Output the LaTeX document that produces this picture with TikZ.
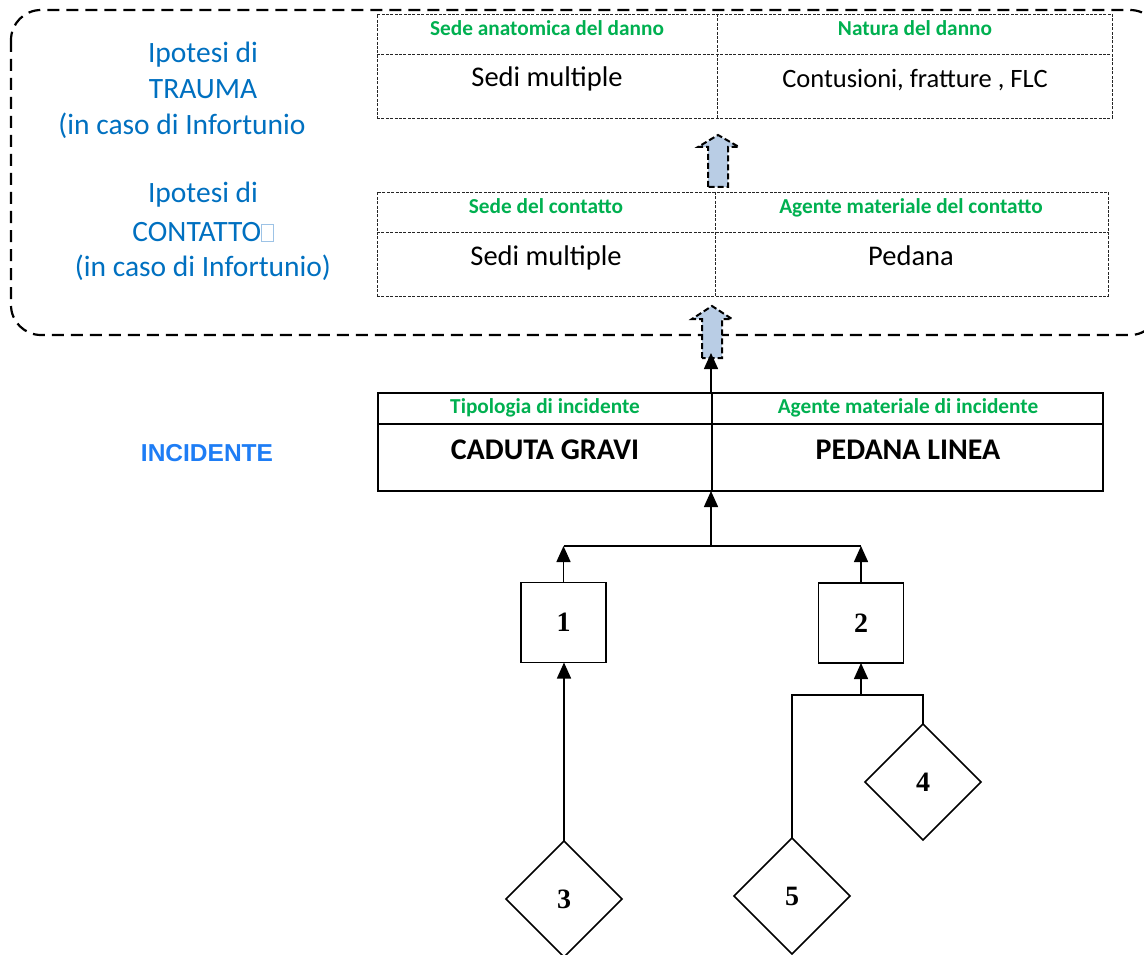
\documentclass[tikz,border=0pt]{standalone}
\usepackage{fontspec}
\setmainfont{Carlito}
\newfontfamily\numfont{Liberation Serif}
\newfontfamily\arialf{Liberation Sans}
\usetikzlibrary{shapes.geometric,arrows.meta,calc}
\definecolor{hdrgreen}{HTML}{00B050}
\definecolor{txtblue}{HTML}{0070C0}
\definecolor{incblue}{RGB}{30,125,245}
\definecolor{arrfill}{HTML}{B9CDE5}
\definecolor{boxblue}{HTML}{9DC3E6}
\tikzset{
  outerdash/.style={line width=2.2pt, dash pattern=on 12pt off 7pt},
  tabd/.style={draw=black!85, line width=0.8pt, dash pattern=on 3pt off 1.4pt, inner sep=0, outer sep=0},
  tabs/.style={draw=black, line width=2pt, inner sep=0, outer sep=0},
  hdr/.style={text=hdrgreen, font=\bfseries\fontsize{21.3}{24}\selectfont, anchor=base, inner sep=0},
  body/.style={text=black, font=\fontsize{28.5}{32}\selectfont, anchor=base, inner sep=0},
  bbody/.style={text=black, font=\bfseries\fontsize{30}{32}\selectfont, anchor=base, inner sep=0},
  lbl/.style={text=txtblue, font=\fontsize{29.5}{32}\selectfont, anchor=base, inner sep=0},
  evbox/.style={draw, line width=1.5pt, minimum width=85pt, minimum height=80pt, inner sep=0, outer sep=0, font=\numfont\bfseries\fontsize{28}{28}\selectfont},
  evdia/.style={draw, diamond, aspect=1, line width=1.5pt, minimum width=116pt, minimum height=116pt, inner sep=0, outer sep=0, font=\numfont\bfseries\fontsize{28}{28}\selectfont},
  arr/.style={line width=1.5pt, -{Triangle[length=16pt,width=14pt]}},
  conn/.style={line width=1.5pt},
  blockarr/.style={fill=arrfill, draw=black, line width=2pt, dash pattern=on 6pt off 3pt}
}
\begin{document}
\begin{tikzpicture}[x=1pt,y=-1pt]
\useasboundingbox (0,0) rectangle (1144,955);
\clip (0,0) rectangle (1144,955);

% outer dashed region
\draw[outerdash, rounded corners=30pt] (11,10) rectangle (1160,335);

% left labels
\node[lbl] (l1) at (203,63) {Ipotesi di};
\node[lbl] (l2) at (203,99) {TRAUMA};
\node[lbl] (l3) at (182,135) {(in caso di Infortunio};
\node[lbl] (l4) at (203,203) {Ipotesi di};
\node[lbl] (l5) at (203,241) {CONTATTO{\color{boxblue}\fboxsep=0pt\fboxrule=0.7pt\fbox{\rule{0pt}{16pt}\hspace{11pt}}}};
\node[lbl] (l6) at (203,276) {(in caso di Infortunio)};
\node[text=incblue, font=\arialf\bfseries\fontsize{24.5}{28}\selectfont, anchor=base, inner sep=0] (incl) at (207,461) {INCIDENTE};

% trauma table
\node[tabd, minimum width=735pt, minimum height=104pt, anchor=north west] (tr) at (377,14) {};
\draw[tabd] (377,54) -- (1112,54);
\draw[tabd] (717,14) -- (717,118);
\node[hdr] (trh1) at (547,36) {Sede anatomica del danno};
\node[hdr] (trh2) at (915,36) {Natura del danno};
\node[body] (trb1) at (547,87) {Sedi multiple};
\node[body, font=\fontsize{26.5}{30}\selectfont] (trb2) at (915,88) {Contusioni, fratture , FLC};

% contact table
\node[tabd, minimum width=731pt, minimum height=104pt, anchor=north west] (ct) at (377,192) {};
\draw[tabd] (377,232) -- (1108,232);
\draw[tabd] (715,192) -- (715,296);
\node[hdr] (cth1) at (546,214) {Sede del contatto};
\node[hdr] (cth2) at (911,214) {Agente materiale del contatto};
\node[body] (ctb1) at (546,265) {Sedi multiple};
\node[body] (ctb2) at (911,265) {Pedana};

% incident table
\node[tabs, minimum width=725pt, minimum height=98pt, anchor=north west] (inc) at (378,393) {};
\draw[tabs] (378,424) -- (1103,424);
\draw[tabs] (712,393) -- (712,491);
\node[hdr] (inh1) at (545,413) {Tipologia di incidente};
\node[hdr] (inh2) at (908,413) {Agente materiale di incidente};
\node[bbody] (inb1) at (545,459) {CADUTA GRAVI};
\node[bbody] (inb2) at (908,459) {PEDANA LINEA};

% block arrows
\draw[blockarr] (702,358) -- (702,319) -- (692,319) -- (712,306) -- (732,319) -- (722,319) -- (722,358) -- cycle;
\draw[blockarr] (708,187) -- (708,147) -- (698,147) -- (718,135) -- (739,147) -- (728,147) -- (728,187) -- cycle;

% incident arrow up
\coordinate (ctop) at (711,353);
\draw[arr] (711,393) -- (ctop);

% events
\node[evbox] (b1) at (563.5,622.5) {1};
\node[evbox] (b2) at (861,623) {2};
\node[evdia] (d3) at (564,899) {3};
\node[evdia] (d4) at (923,782) {4};
\node[evdia] (d5) at (792,896) {5};

\coordinate (j1) at (711,546);
\coordinate (j2) at (861,695);

\draw[conn] (b1.north |- j1) -- (b2.north |- j1);
\draw[arr] (j1) -- (j1 |- inc.south);
\draw[arr] (b1.north) -- (b1.north |- j1);
\draw[arr] (b2.north) -- (b2.north |- j1);
\draw[arr] (d3.north) -- (d3.north |- b1.south);
\draw[conn] (d5.north) |- (j2) -| (d4.north);
\draw[arr] (j2) -- (b2.south);
\end{tikzpicture}
\end{document}
